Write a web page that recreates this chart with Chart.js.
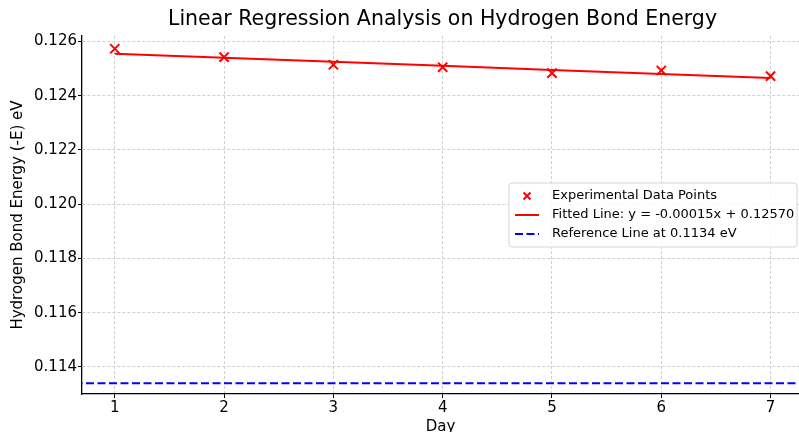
<!DOCTYPE html>
<html lang="en">
<head>
<meta charset="UTF-8">
<title>Linear Regression Analysis on Hydrogen Bond Energy</title>
<script src="https://cdn.jsdelivr.net/npm/chart.js@4"></script>
<style>
    body { margin: 0; background: #fff; }
    #wrap { width: 799px; height: 432px; }
</style>
</head>
<body>
<div id="wrap"><canvas id="chart" width="799" height="432"></canvas></div>
<script>
const days = [1, 2, 3, 4, 5, 6, 7];
const energy = [0.12573, 0.12542, 0.12514, 0.12505, 0.12483, 0.12493, 0.12472];
const fitted = [0.12555, 0.12540, 0.12525, 0.12510, 0.12495, 0.12480, 0.12465];
const refValue = 0.1134;
const refDays = [0, 8];
const xTicks = [1, 2, 3, 4, 5, 6, 7];
const yTicks = [0.114, 0.116, 0.118, 0.120, 0.122, 0.124, 0.126];

const titleText = 'Linear Regression Analysis on Hydrogen Bond Energy';

Chart.defaults.font.family = '"DejaVu Sans", sans-serif';
Chart.defaults.color = '#000';

// title over the plot area + matplotlib-like legend box inside it
const overlay = {
    id: 'overlay',
    afterDraw(chart) {
        const { ctx, chartArea } = chart;
        ctx.save();
        ctx.fillStyle = '#000';
        ctx.font = '20.5px "DejaVu Sans"';
        ctx.textAlign = 'center';
        ctx.textBaseline = 'middle';
        ctx.fillText(titleText, chartArea.left + (chartArea.right - chartArea.left) / 2 + 2, 20);

        const x0 = chartArea.right - 290;
        const y0 = chartArea.top + 147;
        ctx.beginPath();
        ctx.roundRect(x0, y0, 288, 64, 3);
        ctx.fillStyle = 'rgba(255,255,255,0.85)';
        ctx.fill();
        ctx.strokeStyle = '#d4d4d4';
        ctx.lineWidth = 1;
        ctx.stroke();

        ctx.font = '13px "DejaVu Sans"';
        ctx.textAlign = 'left';
        const order = [0, 1, 2];
        order.forEach((di, i) => {
            const ds = chart.data.datasets[di];
            const cy = y0 + 13 + i * 19;
            const hx = x0 + 6, hw = 24;
            ctx.save();
            if (ds.showLine === false) {
                const r = 3.5;
                const cx = hx + hw / 2;
                ctx.strokeStyle = ds.pointBorderColor;
                ctx.lineWidth = 2;
                ctx.beginPath();
                ctx.moveTo(cx - r, cy - r); ctx.lineTo(cx + r, cy + r);
                ctx.moveTo(cx - r, cy + r); ctx.lineTo(cx + r, cy - r);
                ctx.stroke();
            } else {
                ctx.strokeStyle = ds.borderColor;
                ctx.lineWidth = ds.borderWidth;
                ctx.setLineDash(ds.borderDash || []);
                ctx.beginPath();
                ctx.moveTo(hx, cy); ctx.lineTo(hx + hw, cy);
                ctx.stroke();
            }
            ctx.restore();
            ctx.fillStyle = '#000';
            ctx.fillText(ds.label, x0 + 43, cy);
        });
        ctx.restore();
    }
};

new Chart(document.getElementById('chart'), {
    type: 'line',
    data: {
        datasets: [
            {
                label: 'Experimental Data Points',
                data: days.map((d, i) => ({ x: d, y: energy[i] })),
                showLine: false,
                pointStyle: 'crossRot',
                pointRadius: 6.5,
                pointBorderWidth: 2,
                pointBorderColor: '#ff0000',
                pointBackgroundColor: '#ff0000',
                order: 3,
            },
            {
                label: 'Fitted Line: y = -0.00015x + 0.12570',
                data: days.map((d, i) => ({ x: d, y: fitted[i] })),
                borderColor: '#ff0000',
                borderWidth: 2,
                pointRadius: 0,
                tension: 0,
                order: 2,
            },
            {
                label: 'Reference Line at 0.1134 eV',
                data: refDays.map(d => ({ x: d, y: refValue })),
                borderColor: '#0000ff',
                borderWidth: 2,
                borderDash: [8, 3.5],
                pointRadius: 0,
                order: 1,
            },
        ],
    },
    options: {
        responsive: false,
        animation: false,
        layout: {
            autoPadding: false,
            padding: { top: 36, right: 0, left: 0, bottom: 0 },
        },
        plugins: {
            legend: { display: false },
            tooltip: { enabled: false },
        },
        scales: {
            x: {
                type: 'linear',
                min: 0.7,
                max: 7.26,
                afterBuildTicks: scale => { scale.ticks = xTicks.map(v => ({ value: v })); },
                afterFit: scale => {
                    scale.height = 38;
                    scale.paddingLeft = 0;
                    scale.paddingRight = 0;
                },
                ticks: {
                    font: { size: 15 },
                    padding: 1,
                    callback: v => String(v),
                },
                grid: {
                    color: '#d0d0d0',
                    lineWidth: 1,
                    tickColor: '#000',
                    tickLength: 4,
                },
                border: { display: true, color: '#000', width: 1.3, dash: [3, 2] },
                title: {
                    display: true,
                    text: 'Day',
                    font: { size: 15 },
                    padding: { top: 0, bottom: -4 },
                },
            },
            y: {
                type: 'linear',
                min: 0.1130,
                max: 0.1262,
                afterBuildTicks: scale => { scale.ticks = yTicks.map(v => ({ value: v })); },
                afterFit: scale => {
                    scale.width = 82;
                    scale.paddingTop = 0;
                    scale.paddingBottom = 0;
                },
                ticks: {
                    font: { size: 15 },
                    padding: 1,
                    callback: v => v.toFixed(3),
                },
                grid: {
                    color: '#d0d0d0',
                    lineWidth: 1,
                    tickColor: '#000',
                    tickLength: 4,
                },
                border: { display: true, color: '#000', width: 1.3, dash: [3, 2] },
                title: {
                    display: true,
                    text: 'Hydrogen Bond Energy (-E) eV',
                    font: { size: 15 },
                    padding: { top: 9, bottom: 0 },
                },
            },
        },
    },
    plugins: [overlay],
});
</script>
</body>
</html>
